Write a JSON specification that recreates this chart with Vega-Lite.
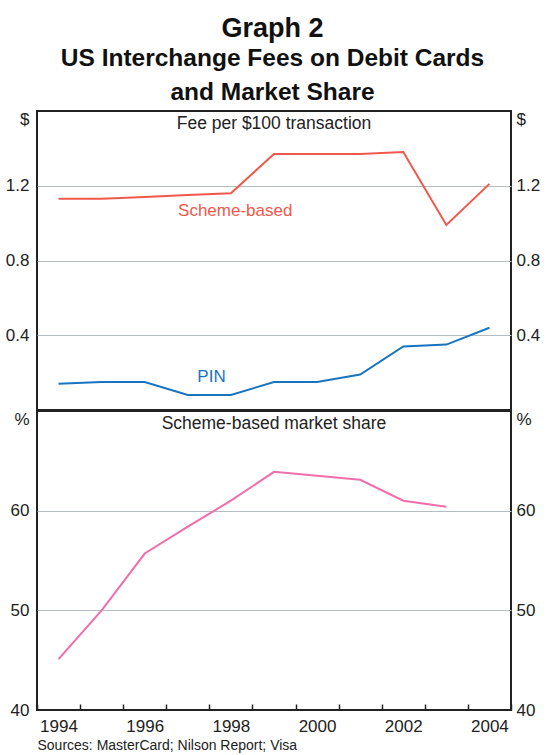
{
  "$schema": "https://vega.github.io/schema/vega-lite/v6.json",
  "padding": {"left": 4, "top": 14, "right": 2, "bottom": 0},
  "background": "white",
  "title": {
    "text": "Graph 2",
    "subtitle": ["US Interchange Fees on Debit Cards", "and Market Share"],
    "fontSize": 27,
    "fontWeight": "bold",
    "color": "#111",
    "subtitleFontSize": 24.5,
    "subtitleFontWeight": "bold",
    "subtitleColor": "#111",
    "subtitleLineHeight": 34,
    "subtitlePadding": 4,
    "anchor": "middle",
    "offset": 4
  },
  "config": {
    "font": "Liberation Sans",
    "view": {"stroke": "#222", "strokeWidth": 2},
    "axis": {"labelColor": "#222", "labelFontSize": 17, "gridColor": "#b4bcc4", "gridWidth": 1}
  },
  "datasets": {
    "fees": [
      {"year": 1994.5, "series": "Scheme-based", "value": 1.13},
      {"year": 1995.5, "series": "Scheme-based", "value": 1.13},
      {"year": 1996.5, "series": "Scheme-based", "value": 1.14},
      {"year": 1997.5, "series": "Scheme-based", "value": 1.15},
      {"year": 1998.5, "series": "Scheme-based", "value": 1.16},
      {"year": 1999.5, "series": "Scheme-based", "value": 1.37},
      {"year": 2000.5, "series": "Scheme-based", "value": 1.37},
      {"year": 2001.5, "series": "Scheme-based", "value": 1.37},
      {"year": 2002.5, "series": "Scheme-based", "value": 1.38},
      {"year": 2003.5, "series": "Scheme-based", "value": 0.99},
      {"year": 2004.5, "series": "Scheme-based", "value": 1.21},
      {"year": 1994.5, "series": "PIN", "value": 0.14},
      {"year": 1995.5, "series": "PIN", "value": 0.15},
      {"year": 1996.5, "series": "PIN", "value": 0.15},
      {"year": 1997.5, "series": "PIN", "value": 0.08},
      {"year": 1998.5, "series": "PIN", "value": 0.08},
      {"year": 1999.5, "series": "PIN", "value": 0.15},
      {"year": 2000.5, "series": "PIN", "value": 0.15},
      {"year": 2001.5, "series": "PIN", "value": 0.19},
      {"year": 2002.5, "series": "PIN", "value": 0.34},
      {"year": 2003.5, "series": "PIN", "value": 0.35},
      {"year": 2004.5, "series": "PIN", "value": 0.44}
    ],
    "labels": [
      {"year": 1998.6, "series": "Scheme-based", "value": 1.065, "text": "Scheme-based"},
      {"year": 1998.05, "series": "PIN", "value": 0.177, "text": "PIN"}
    ],
    "share": [
      {"year": 1994.5, "value": 45.1},
      {"year": 1995.5, "value": 50.0},
      {"year": 1996.5, "value": 55.7},
      {"year": 1997.5, "value": 58.4},
      {"year": 1998.5, "value": 61.0},
      {"year": 1999.5, "value": 63.9},
      {"year": 2000.5, "value": 63.5},
      {"year": 2001.5, "value": 63.1},
      {"year": 2002.5, "value": 61.0},
      {"year": 2003.5, "value": 60.4}
    ]
  },
  "spacing": -2,
  "vconcat": [
    {
      "width": 474,
      "height": 299,
      "title": {"text": "Fee per $100 transaction", "fontSize": 17.5, "fontWeight": "normal", "color": "#222", "offset": -22, "anchor": "middle"},
      "layer": [
        {
          "data": {"name": "fees"},
          "mark": {"type": "line", "strokeWidth": 2},
          "encoding": {
            "x": {"field": "year", "type": "quantitative", "scale": {"domain": [1994, 2005], "nice": false, "zero": false}, "axis": null},
            "y": {"field": "value", "type": "quantitative", "scale": {"domain": [0, 1.6], "nice": false},
              "axis": {"title": null, "orient": "left", "values": [0.4, 0.8, 1.2, 1.6], "format": ".1f",
                "labelExpr": "datum.value == 1.6 ? '$' : datum.label",
                "labelBaseline": {"condition": {"test": "datum.value == 1.6", "value": "top"}, "value": "middle"},
                "gridOpacity": {"condition": {"test": "datum.value == 1.6", "value": 0}, "value": 1},
                "grid": true, "domain": false, "ticks": false, "labelPadding": 8}},
            "color": {"field": "series", "type": "nominal", "scale": {"domain": ["Scheme-based", "PIN"], "range": ["#f0584b", "#1874c1"]}, "legend": null}
          }
        },
        {
          "data": {"name": "labels"},
          "mark": {"type": "text", "fontSize": 17, "baseline": "middle", "align": "center"},
          "encoding": {
            "x": {"field": "year", "type": "quantitative"},
            "y": {"field": "value", "type": "quantitative", "scale": {"domain": [0, 1.6], "nice": false},
              "axis": {"title": null, "orient": "right", "values": [0.4, 0.8, 1.2, 1.6], "format": ".1f",
                "labelExpr": "datum.value == 1.6 ? '$' : datum.label",
                "labelBaseline": {"condition": {"test": "datum.value == 1.6", "value": "top"}, "value": "middle"},
                "grid": false, "domain": false, "ticks": false, "labelPadding": 5}},
            "text": {"field": "text"},
            "color": {"field": "series", "type": "nominal", "legend": null}
          }
        }
      ],
      "resolve": {"scale": {"y": "independent"}}
    },
    {
      "width": 474,
      "height": 299,
      "title": {"text": "Scheme-based market share", "fontSize": 17.5, "fontWeight": "normal", "color": "#222", "offset": -22, "anchor": "middle"},
      "data": {"name": "share"},
      "layer": [
        {
          "mark": {"type": "line", "strokeWidth": 2, "color": "#f06eaa"},
          "encoding": {
            "x": {"field": "year", "type": "quantitative", "scale": {"domain": [1994, 2005], "nice": false, "zero": false},
              "axis": {"title": "Sources: MasterCard; Nilson Report; Visa", "titleAnchor": "start", "titleAlign": "left", "titleFontSize": 14, "titleFontWeight": "normal", "titleColor": "#222", "titlePadding": 4,
                "values": [1994, 1995, 1996, 1997, 1998, 1999, 2000, 2001, 2002, 2003, 2004, 2005], "format": "d",
                "labelExpr": "(datum.value % 2 == 0 && datum.value < 2005) ? datum.label : ''",
                "labelOffset": 21.5, "labelFlush": false, "labelOverlap": false,
                "grid": false, "domain": false, "ticks": true, "tickSize": -6, "tickColor": "#222", "tickWidth": 1.5, "labelPadding": 14}},
            "y": {"field": "value", "type": "quantitative", "scale": {"domain": [40, 70], "nice": false, "zero": false},
              "axis": {"title": null, "orient": "left", "values": [40, 50, 60, 70],
                "labelExpr": "datum.value == 70 ? '%' : datum.label",
                "labelBaseline": {"condition": {"test": "datum.value == 70", "value": "top"}, "value": "middle"},
                "gridOpacity": {"condition": {"test": "datum.value == 70 || datum.value == 40", "value": 0}, "value": 1},
                "grid": true, "domain": false, "ticks": false, "labelPadding": 8}}
          }
        },
        {
          "mark": {"type": "line", "opacity": 0},
          "encoding": {
            "x": {"field": "year", "type": "quantitative"},
            "y": {"field": "value", "type": "quantitative", "scale": {"domain": [40, 70], "nice": false, "zero": false},
              "axis": {"title": null, "orient": "right", "values": [40, 50, 60, 70],
                "labelExpr": "datum.value == 70 ? '%' : datum.label",
                "labelBaseline": {"condition": {"test": "datum.value == 70", "value": "top"}, "value": "middle"},
                "grid": false, "domain": false, "ticks": false, "labelPadding": 5}}
          }
        }
      ],
      "resolve": {"scale": {"y": "independent"}}
    }
  ]
}
